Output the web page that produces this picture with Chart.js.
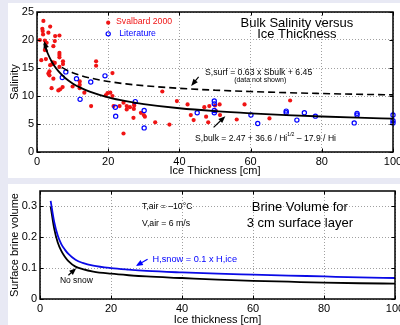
<!DOCTYPE html>
<html>
<head>
<meta charset="utf-8">
<script src="https://cdn.jsdelivr.net/npm/chart.js@4.4.1/dist/chart.umd.min.js"></script>
<style>
	body {
		margin: 0;
		width: 400px;
		height: 325px;
		overflow: hidden;
		position: relative;
		background: #e8e9f4;
	}
	.panel {
		position: absolute;
		left: 8px;
		width: 392px;
		background: #ffffff;
	}
	#top {
		top: 3px;
		height: 175px;
	}
	#bottom {
		top: 184px;
		height: 141px;
	}
</style>
</head>
<body>
<div class="panel" id="top"><canvas id="salinity" width="392" height="175"></canvas></div>
<div class="panel" id="bottom"><canvas id="brine" width="392" height="141"></canvas></div>
<script>
// Svalbard 2000 samples (ice thickness cm, bulk salinity)
const svalbardThickness = [1.8, 3.7, 1.5, 1.6, 1.7, 3.2, 5.1, 6.3, 0.8, 2.2, 2.7, 5.0, 4.6, 2.2, 6.3, 6.3, 6.3, 1.2, 2.5, 4.5, 5.0, 4.3, 7.3, 7.3, 3.7, 6.3, 3.5, 3.2, 3.5, 4.6, 4.1, 6.0, 6.5, 7.2, 10.0, 12.0, 12.0, 12.0, 13.3, 16.6, 16.6, 21.2, 15.2, 19.3, 19.8, 20.6, 21.2, 21.5, 23.2, 24.3, 25.2, 25.2, 26.1, 27.3, 27.3, 27.2, 29.2, 30.0, 30.3, 27.1, 24.3, 33.2, 37.2, 35.2, 39.3, 42.3, 43.2, 44.0, 47.0, 47.5, 48.4, 50.0, 51.3, 50.3, 48.1, 51.4, 56.1, 58.3, 65.3, 71.1];
const svalbardSalinity = [23.4, 22.4, 22.0, 21.6, 21.0, 21.3, 20.7, 20.8, 20.0, 19.9, 19.5, 19.8, 18.9, 18.2, 17.7, 17.3, 16.9, 16.4, 16.6, 16.0, 15.9, 15.7, 16.2, 15.7, 15.5, 15.2, 14.4, 14.0, 13.7, 13.1, 11.4, 11.0, 11.2, 11.6, 11.7, 12.6, 12.0, 11.4, 10.6, 16.2, 15.4, 14.1, 8.2, 10.1, 10.5, 10.6, 10.0, 8.2, 8.2, 8.8, 8.2, 7.6, 8.0, 8.6, 8.3, 7.7, 7.0, 6.6, 6.3, 6.1, 3.3, 5.3, 4.9, 10.8, 9.1, 8.5, 6.6, 5.7, 8.0, 6.3, 8.2, 8.3, 8.5, 7.3, 5.3, 6.6, 5.8, 8.5, 6.0, 9.2];

// literature values
const literatureThickness = [8.1, 7.1, 11.1, 12.1, 15.1, 19.1, 22.0, 22.1, 27.6, 30.1, 30.1, 45.0, 49.8, 49.8, 49.8, 49.8, 60.1, 62.0, 70.0, 70.0, 73.0, 75.1, 78.2, 89.9, 89.9, 89.1, 100, 100, 100];
const literatureSalinity = [14.3, 13.3, 13.1, 9.4, 12.5, 13.6, 8.0, 6.4, 9.0, 7.4, 4.3, 7.0, 7.4, 7.0, 9.1, 8.6, 6.6, 5.1, 7.3, 7.0, 5.7, 7.0, 6.4, 6.6, 6.9, 5.2, 6.6, 5.6, 5.2];

// fitted curves
const bulkThickness = [2, 2.5, 3, 4, 5, 6, 8, 10, 12, 15, 20, 25, 30, 40, 50, 60, 70, 80, 90, 100];
const bulkSalinity = [19.40, 18.46, 17.63, 16.30, 15.26, 14.43, 13.17, 12.25, 11.54, 10.73, 9.76, 9.07, 8.56, 7.81, 7.29, 6.90, 6.59, 6.34, 6.13, 5.95];
const surfThickness = [7, 8, 10, 12, 15, 20, 25, 30, 40, 50, 60, 70, 80, 90, 100];
const surfSalinity = [15.11, 14.75, 14.17, 13.72, 13.21, 12.60, 12.16, 11.84, 11.37, 11.04, 10.80, 10.60, 10.44, 10.31, 10.20];

// brine volume of the 3 cm surface layer
const brineThickness = [3, 4, 5, 6, 7, 8, 10, 12, 15, 20, 25, 30, 40, 50, 60, 70, 80, 90, 100];
const brineNoSnow = [0.300, 0.228, 0.183, 0.156, 0.137, 0.123, 0.105, 0.097, 0.089, 0.082, 0.077, 0.073, 0.068, 0.063, 0.059, 0.056, 0.053, 0.051, 0.050];
const brineSnow = [0.318, 0.250, 0.206, 0.178, 0.160, 0.146, 0.127, 0.117, 0.108, 0.100, 0.095, 0.091, 0.086, 0.082, 0.079, 0.076, 0.073, 0.070, 0.068];

const thicknessTicks = [0, 20, 40, 60, 80, 100];
const salinityTicks = [0, 5, 10, 15, 20, 25];
const brineTicks = [0, 0.1, 0.2, 0.3];

const RED = "#f01414";
const BLUE = "#0000ff";
const FONT = "'Liberation Sans', Arial, Helvetica, sans-serif";

Chart.defaults.font.family = FONT;
Chart.defaults.color = "#000";

function points(xs, ys) {
	return xs.map((x, i) => ({ x: x, y: ys[i] }));
}

function drawArrow(ctx, x1, y1, x2, y2, color) {
	const angle = Math.atan2(y2 - y1, x2 - x1);
	const len = 7;
	const half = 2.8;
	ctx.save();
	ctx.strokeStyle = color;
	ctx.fillStyle = color;
	ctx.lineWidth = 1.2;
	ctx.beginPath();
	ctx.moveTo(x1, y1);
	ctx.lineTo(x2 - Math.cos(angle) * 3, y2 - Math.sin(angle) * 3);
	ctx.stroke();
	ctx.beginPath();
	ctx.moveTo(x2, y2);
	ctx.lineTo(x2 - len * Math.cos(angle) + half * Math.sin(angle), y2 - len * Math.sin(angle) - half * Math.cos(angle));
	ctx.lineTo(x2 - len * Math.cos(angle) - half * Math.sin(angle), y2 - len * Math.sin(angle) + half * Math.cos(angle));
	ctx.closePath();
	ctx.fill();
	ctx.restore();
}

// black frame with inward ticks, like the original figure
const plotFrame = {
	id: "plotFrame",
	afterDraw(chart) {
		const { ctx, chartArea, scales } = chart;
		ctx.save();
		ctx.strokeStyle = "#000";
		ctx.lineWidth = 1;
		ctx.beginPath();
		for (const tick of scales.x.ticks) {
			const px = Math.round(scales.x.getPixelForValue(tick.value)) + 0.5;
			ctx.moveTo(px, chartArea.bottom);
			ctx.lineTo(px, chartArea.bottom - 3.5);
			ctx.moveTo(px, chartArea.top);
			ctx.lineTo(px, chartArea.top + 3.5);
		}
		for (const tick of scales.y.ticks) {
			const py = Math.round(scales.y.getPixelForValue(tick.value)) + 0.5;
			ctx.moveTo(chartArea.left, py);
			ctx.lineTo(chartArea.left + 3.5, py);
			ctx.moveTo(chartArea.right, py);
			ctx.lineTo(chartArea.right - 3.5, py);
		}
		ctx.stroke();
		ctx.lineWidth = 1.5;
		ctx.strokeRect(chartArea.left, chartArea.top, chartArea.width, chartArea.height);
		ctx.restore();
	}
};

// text labels, arrows and legend markers placed in data coordinates
const notes = {
	id: "notes",
	afterDatasetsDraw(chart, args, options) {
		const { ctx, scales } = chart;
		const px = v => scales.x.getPixelForValue(v);
		const py = v => scales.y.getPixelForValue(v);
		ctx.save();
		ctx.textBaseline = "middle";
		for (const arrow of options.arrows || []) {
			drawArrow(ctx, px(arrow.from[0]), py(arrow.from[1]), px(arrow.to[0]), py(arrow.to[1]), arrow.color || "#000");
		}
		for (const marker of options.markers || []) {
			ctx.beginPath();
			ctx.arc(px(marker.x), py(marker.y), marker.radius, 0, Math.PI * 2);
			if (marker.fill) {
				ctx.fillStyle = marker.color;
				ctx.fill();
			}
			else {
				ctx.strokeStyle = marker.color;
				ctx.lineWidth = 1.2;
				ctx.stroke();
			}
		}
		for (const note of options.texts || []) {
			ctx.fillStyle = note.color || "#000";
			let x = px(note.x);
			const y = py(note.y);
			const parts = note.parts || [{ text: note.text }];
			ctx.font = `${note.size}px ${FONT}`;
			if (note.align === "center") {
				let width = 0;
				for (const part of parts) {
					ctx.font = `${part.sup ? note.size * 0.6 : note.size}px ${FONT}`;
					width += ctx.measureText(part.text).width;
				}
				x -= width / 2;
			}
			ctx.textAlign = "left";
			for (const part of parts) {
				const size = part.sup ? note.size * 0.6 : note.size;
				ctx.font = `${size}px ${FONT}`;
				ctx.fillText(part.text, x, part.sup ? y - note.size * 0.55 : y);
				x += ctx.measureText(part.text).width;
			}
		}
		ctx.restore();
	}
};

function axis(ticks, min, max, size, title, titleLineHeight) {
	return {
		type: "linear",
		min: min,
		max: max,
		afterBuildTicks: scale => {
			scale.ticks = ticks.map(v => ({ value: v }));
		},
		afterFit: scale => {
			if (scale.isHorizontal()) {
				scale.height = size;
			}
			else {
				scale.width = size;
			}
			scale.paddingLeft = 0;
			scale.paddingRight = 0;
			scale.paddingTop = 0;
			scale.paddingBottom = 0;
		},
		grid: {
			color: "#a0a0a0",
			lineWidth: 1,
			drawTicks: false
		},
		border: {
			display: false,
			dash: [1, 2]
		},
		ticks: {
			padding: 3,
			color: "#000",
			maxRotation: 0,
			font: { size: 11 }
		},
		title: {
			display: true,
			text: title,
			color: "#000",
			padding: 0,
			font: { size: 11, lineHeight: titleLineHeight }
		}
	};
}

function drawSalinity() {
	const context = document.getElementById("salinity").getContext("2d");
	const datasets = [
		{
			type: "line",
			data: points(bulkThickness, bulkSalinity),
			borderColor: "#000",
			borderWidth: 1.8,
			pointRadius: 0,
			cubicInterpolationMode: "monotone"
		},
		{
			type: "line",
			data: points(surfThickness, surfSalinity),
			borderColor: "#000",
			borderWidth: 1.6,
			borderDash: [7, 4],
			pointRadius: 0,
			cubicInterpolationMode: "monotone"
		},
		{
			label: "Literature",
			data: points(literatureThickness, literatureSalinity),
			pointRadius: 2.1,
			pointBorderWidth: 1.2,
			pointBorderColor: BLUE,
			pointBackgroundColor: "rgba(0,0,0,0)",
			clip: false
		},
		{
			label: "Svalbard 2000",
			data: points(svalbardThickness, svalbardSalinity),
			pointRadius: 2.1,
			pointBorderWidth: 0,
			pointBackgroundColor: RED,
			clip: false
		}
	];
	new Chart(context, {
		type: "scatter",
		data: { datasets: datasets },
		options: {
			responsive: false,
			animation: false,
			layout: { padding: { top: 9, right: 7, left: 0, bottom: 0 } },
			plugins: {
				legend: { display: false },
				tooltip: { enabled: false },
				notes: {
					markers: [
						{ x: 20.0, y: 23.1, radius: 2.1, color: RED, fill: true },
						{ x: 20.0, y: 21.1, radius: 2.1, color: BLUE, fill: false }
					],
					texts: [
						{ x: 73, y: 23.0, text: "Bulk Salinity versus", size: 13, align: "center" },
						{ x: 73, y: 21.0, text: "Ice Thickness", size: 13, align: "center" },
						{ x: 22.2, y: 23.2, text: "Svalbard 2000", size: 8.7, color: RED },
						{ x: 23.1, y: 21.1, text: "Literature", size: 8.7, color: BLUE },
						{ x: 47.2, y: 14.2, text: "S,surf = 0.63 x Sbulk + 6.45", size: 8.7 },
						{ x: 62.7, y: 12.8, text: "(data not shown)", size: 7, align: "center" },
						{
							x: 44.4, y: 2.3, size: 8.6,
							parts: [
								{ text: "S,bulk = 2.47 + 36.6 / Hi" },
								{ text: "1/2", sup: true },
								{ text: " \u2013 17.9 / Hi" }
							]
						}
					],
					arrows: [
						{ from: [45.4, 13.4], to: [43.3, 11.8] },
						{ from: [49.6, 4.4], to: [52.9, 6.4] },
						{ from: [2.9, 17.9], to: [2.0, 19.8] }
					]
				}
			},
			scales: {
				x: axis(thicknessTicks, 0, 100, 26, "Ice Thickness [cm]", 1.2),
				y: axis(salinityTicks, 0, 25, 29, "Salinity", 1.2)
			}
		},
		plugins: [plotFrame, notes]
	});
}

function drawBrine() {
	const context = document.getElementById("brine").getContext("2d");
	const datasets = [
		{
			type: "line",
			data: points(brineThickness, brineSnow),
			borderColor: "#0a0ae6",
			borderWidth: 1.8,
			pointRadius: 0,
			cubicInterpolationMode: "monotone"
		},
		{
			type: "line",
			data: points(brineThickness, brineNoSnow),
			borderColor: "#000",
			borderWidth: 1.8,
			pointRadius: 0,
			cubicInterpolationMode: "monotone"
		}
	];
	new Chart(context, {
		type: "scatter",
		data: { datasets: datasets },
		options: {
			responsive: false,
			animation: false,
			layout: { padding: { top: 7, right: 5, left: 0, bottom: 0 } },
			plugins: {
				legend: { display: false },
				tooltip: { enabled: false },
				notes: {
					texts: [
						{ x: 28.7, y: 0.300, text: "T,air = \u201310\u00b0C", size: 8.7 },
						{ x: 28.7, y: 0.245, text: "V,air = 6 m/s", size: 8.7 },
						{ x: 73.2, y: 0.297, text: "Brine Volume for", size: 13, align: "center" },
						{ x: 73.2, y: 0.245, text: "3 cm surface layer", size: 13, align: "center" },
						{ x: 31.7, y: 0.128, text: "H,snow = 0.1 x H,ice", size: 9.2, color: BLUE },
						{ x: 5.6, y: 0.058, text: "No snow", size: 8.5 }
					],
					arrows: [
						{ from: [30.3, 0.129], to: [27.0, 0.107], color: BLUE },
						{ from: [8.0, 0.077], to: [10.2, 0.100] }
					]
				}
			},
			scales: {
				x: axis(thicknessTicks, 0, 100, 26, "Ice thickness [cm]", 0.9),
				y: axis(brineTicks, 0, 0.35, 32, "Surface brine volume", 1.2)
			}
		},
		plugins: [plotFrame, notes]
	});
}

drawSalinity();
drawBrine();
</script>
</body>
</html>
